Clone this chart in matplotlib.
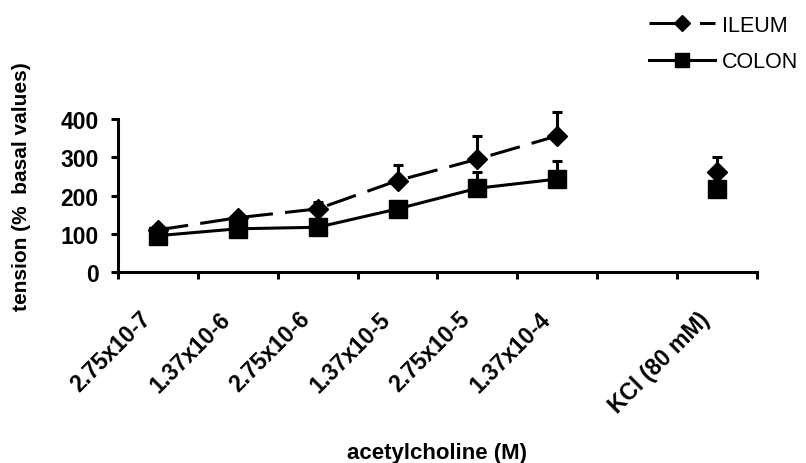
import matplotlib

matplotlib.use("Agg")
import matplotlib.pyplot as plt
import matplotlib.transforms as mtransforms
from matplotlib.lines import Line2D
import numpy as np

plt.rcParams["font.family"] = ["Liberation Sans", "DejaVu Sans"]

# categories (slot 7 is left empty on purpose)
categories = ["2.75x10-7", "1.37x10-6", "2.75x10-6", "1.37x10-5",
              "2.75x10-5", "1.37x10-4", "", "KCl (80 mM)"]

ileum_mean = [110, 142, 165, 239, 295, 356]
ileum_err = [6, 8, 18, 41, 61, 62]
ileum_kcl = 261
ileum_kcl_err = 39

colon_mean = [95, 113, 117, 165, 219, 243]
colon_err = [5, 6, 5, 10, 42, 48]
colon_kcl = 217
colon_kcl_err = 0

x_conc = np.arange(len(ileum_mean))
x_kcl = len(categories) - 1

fig = plt.figure(figsize=(8.06, 4.64), dpi=100)
ax = fig.add_axes([0.1464, 0.4116, 0.7928, 0.3298])

lw = 2.2
ileum_dash = (10, 4)
err_kw = dict(capsize=3.6, capthick=2.2, elinewidth=2.2)

# ILEUM: dashed with diamonds
ax.errorbar(x_conc, ileum_mean, yerr=[np.zeros(len(ileum_err)), ileum_err],
            color="black", lw=lw, dashes=ileum_dash, marker="D", ms=10,
            zorder=3, clip_on=False, **err_kw)
ax.errorbar([x_kcl], [ileum_kcl], yerr=[[0], [ileum_kcl_err]],
            color="black", ls="none", marker="D", ms=10,
            zorder=3, clip_on=False, **err_kw)
# COLON: solid with squares
ax.errorbar(x_conc, colon_mean, yerr=[np.zeros(len(colon_err)), colon_err],
            color="black", lw=lw, ls="-", marker="s", ms=13,
            zorder=4, clip_on=False, **err_kw)
ax.errorbar([x_kcl], [colon_kcl], yerr=[[0], [colon_kcl_err]],
            color="black", ls="none", marker="s", ms=13,
            zorder=4, clip_on=False, capsize=0, elinewidth=2.2)

ax.set_xlim(-0.5, len(categories) - 0.5)
ax.set_ylim(0, 400)
ax.set_yticks([0, 100, 200, 300, 400])
ax.set_xticks(np.arange(len(categories) + 1) - 0.5)
ax.tick_params(axis="x", length=5, width=2.2, direction="out", labelbottom=False)
ax.tick_params(axis="y", length=5, width=2.2, direction="out", labelsize=16.5, pad=9)
for lab in ax.get_yticklabels():
    lab.set_fontweight("bold")

# category labels, rotated, top-right corner placed just left of slot centre
label_trans = ax.get_xaxis_transform() + mtransforms.ScaledTranslation(
    -19 / 100, -35 / 100, fig.dpi_scale_trans)
for i, cat in enumerate(categories):
    ax.text(i, 0, cat, transform=label_trans, rotation=45, rotation_mode="anchor",
            ha="right", va="top", fontsize=16.5, fontweight="bold", clip_on=False)

for side in ["top", "right"]:
    ax.spines[side].set_visible(False)
for side in ["left", "bottom"]:
    ax.spines[side].set_linewidth(2.2)

fig.text(0.027, 0.597, "tension (%  basal values)", rotation=90, ha="center", va="center",
         fontsize=15, fontweight="bold")
fig.text(0.542, 0.011, "acetylcholine (M)", ha="center", va="baseline",
         fontsize=16, fontweight="bold")

handles = [
    Line2D([], [], color="black", lw=lw, dashes=(10, 6.5), marker="D", ms=8),
    Line2D([], [], color="black", lw=lw, ls="-", marker="s", ms=10),
]
fig.legend(handles, ["ILEUM", "COLON"], loc="upper left",
           bbox_to_anchor=(649 / 806, 1 - 16 / 464), frameon=False, borderpad=0,
           borderaxespad=0, fontsize=15.5, handlelength=3.07, handletextpad=0.33,
           labelspacing=0.72, numpoints=1)

fig.savefig("out.png", dpi=100)
